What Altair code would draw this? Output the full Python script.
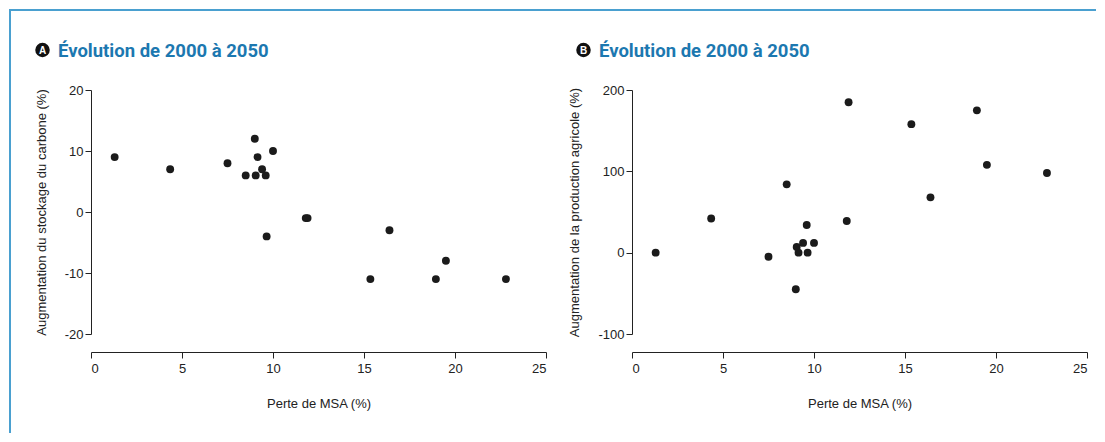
import altair as alt
import pandas as pd

# ---- data ----
msa_loss = [1.3, 4.35, 7.5, 8.5, 9.0, 9.05, 9.15, 9.4, 9.6, 9.65, 10.0, 11.8, 11.9, 15.35, 16.4, 18.95, 19.5, 22.8]
carbon_gain = [9, 7, 8, 6, 12, 6, 9, 7, 6, -4, 10, -1, -1, -11, -3, -11, -8, -11]
agri_gain = [0, 42, -5, 84, -45, 7, 0, 12, 34, 0, 12, 39, 185, 158, 68, 175, 108, 98]

x_ticks = [0, 5, 10, 15, 20, 25]
carbon_ticks = [-20, -10, 0, 10, 20]
agri_ticks = [-100, 0, 100, 200]

panel_title = "Évolution de 2000 à 2050"
x_title = "Perte de MSA (%)"
carbon_title = "Augmentation du stockage du carbone (%)"
agri_title = "Augmentation de la production agricole (%)"

df = pd.DataFrame({"msa": msa_loss, "carbon": carbon_gain, "agri": agri_gain})

INK = "#222222"
BLUE_TITLE = "#1c78b0"
BLUE_FRAME = "#4aa0d0"
FONT = "Liberation Sans"
LABEL_EXPR = "datum.value < 0 ? '-' + abs(datum.value) : '' + datum.value"


def panel(ycol, ydomain, yticks, ytitle, letter, with_frame=False):
    pts = alt.Chart(df).mark_circle(size=62, opacity=1, color="#1b1b1b").encode(
        x=alt.X(
            "msa:Q",
            scale=alt.Scale(domain=[0, 25], nice=False, zero=False),
            axis=alt.Axis(values=x_ticks, title=x_title, offset=18, tickSize=6,
                          labelPadding=4, titlePadding=22, grid=False),
        ),
        y=alt.Y(
            f"{ycol}:Q",
            scale=alt.Scale(domain=ydomain, nice=False, zero=False),
            axis=alt.Axis(values=yticks, title=ytitle, tickSize=6, labelExpr=LABEL_EXPR,
                          labelPadding=2, titlePadding=16, grid=False),
        ),
    )
    lab = pd.DataFrame({"l": [letter], "t": [panel_title]})
    badge = alt.Chart(lab).mark_circle(size=210, opacity=1, color="#111111").encode(
        x=alt.value(-48.5), y=alt.value(-40)
    )
    badge_txt = alt.Chart(lab).mark_text(
        color="white", fontSize=10, fontWeight="bold", font=FONT,
        align="center", baseline="middle"
    ).encode(text="l:N", x=alt.value(-48.5), y=alt.value(-39.5))
    ttl = alt.Chart(lab).mark_text(
        color=BLUE_TITLE, fontSize=18.5, fontWeight="bold", font="Roboto",
        align="left", baseline="alphabetic"
    ).encode(text="t:N", x=alt.value(-33), y=alt.value(-33))
    layers = [pts, badge, badge_txt, ttl]
    if with_frame:
        one = pd.DataFrame({"a": [0]})
        vline = alt.Chart(one).mark_rule(color=BLUE_FRAME, strokeWidth=2).encode(
            x=alt.value(-81), y=alt.value(-81), y2=alt.value(343)
        )
        hline = alt.Chart(one).mark_rule(color=BLUE_FRAME, strokeWidth=2).encode(
            x=alt.value(-82), x2=alt.value(1005), y=alt.value(-80)
        )
        layers = [vline, hline] + layers
    return alt.layer(*layers).properties(width=455, height=244)


a = panel("carbon", [-20, 20], carbon_ticks, carbon_title, "A", with_frame=True)
b = panel("agri", [-100, 200], agri_ticks, agri_title, "B")

chart = alt.hconcat(a, b, spacing=86, bounds="flush").properties(padding=0).configure_view(
    stroke=None
).configure_axis(
    domainColor=INK, tickColor=INK, labelColor=INK, titleColor=INK,
    labelFont=FONT, titleFont=FONT, labelFontSize=13, titleFontSize=13,
    titleFontWeight="normal", domainWidth=1, tickWidth=1
)

chart.save("out.html", embed_options={"renderer": "svg", "actions": False})
